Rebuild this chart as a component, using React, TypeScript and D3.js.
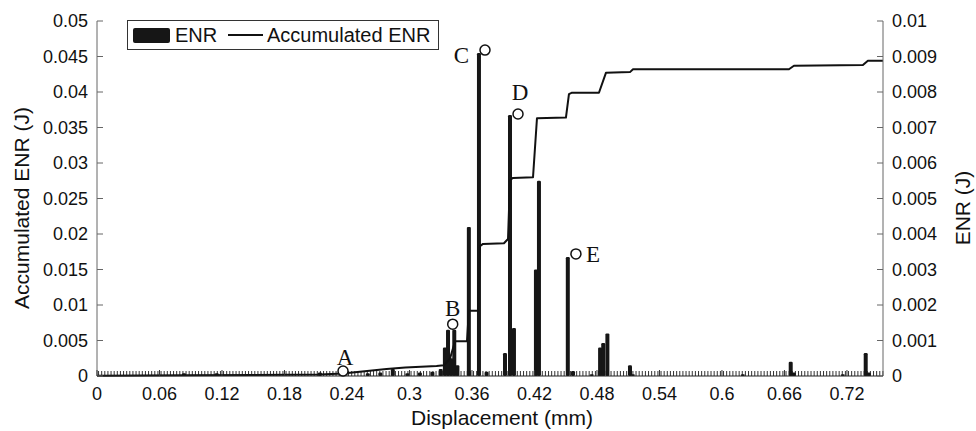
import React from 'react';
import * as d3 from 'd3';

// ---- data ----
const xTicks = [0, 0.06, 0.12, 0.18, 0.24, 0.3, 0.36, 0.42, 0.48, 0.54, 0.6, 0.66, 0.72];
const leftTicks = [0, 0.005, 0.01, 0.015, 0.02, 0.025, 0.03, 0.035, 0.04, 0.045, 0.05];
const rightTicks = [0, 0.001, 0.002, 0.003, 0.004, 0.005, 0.006, 0.007, 0.008, 0.009, 0.01];

// ENR bars (displacement mm, ENR J)
const enrX = [0.0835, 0.115, 0.214, 0.26, 0.272, 0.284, 0.298, 0.31, 0.322, 0.33, 0.334, 0.337, 0.34, 0.343, 0.346,
  0.357, 0.3667, 0.374, 0.3917, 0.3965, 0.4003, 0.4214, 0.4243, 0.452, 0.457, 0.475, 0.483, 0.486, 0.49,
  0.5117, 0.5145, 0.62, 0.666, 0.669, 0.716, 0.738, 0.741];
const enrV = [0.00008, 0.00008, 0.0001, 0.00008, 0.0001, 0.0002, 0.00008, 0.0001, 0.00012, 0.0002, 0.0008, 0.0013, 0.0005, 0.0013, 0.0003,
  0.0042, 0.0091, 0.00012, 0.00065, 0.00735, 0.00135, 0.003, 0.0055, 0.00335, 0.00014, 0.00005, 0.0008, 0.00093, 0.0012,
  0.0003, 0.00005, 0.00005, 0.0004, 0.0001, 0.00005, 0.00065, 0.0001];

// Accumulated ENR (displacement mm, J)
const accX = [0, 0.0835, 0.214, 0.236, 0.278, 0.296, 0.326, 0.333, 0.339, 0.3437, 0.3552, 0.357, 0.3658, 0.3677, 0.3706,
  0.3907, 0.3946, 0.3965, 0.3994, 0.4186, 0.4224, 0.4502, 0.4531, 0.456, 0.4819, 0.4886, 0.5117, 0.5146, 0.6643,
  0.6691, 0.7353, 0.7401, 0.7546];
const accV = [0.00005, 0.0001, 0.0002, 0.00035, 0.001, 0.0012, 0.0014, 0.0015, 0.0025, 0.0049, 0.0049, 0.0092, 0.0092, 0.0183, 0.0186,
  0.0187, 0.0193, 0.0276, 0.0279, 0.028, 0.0363, 0.0364, 0.0397, 0.0399, 0.0399, 0.0427, 0.0428, 0.0432, 0.0432,
  0.0437, 0.0438, 0.0444, 0.0444];

// annotated points
const markLabels = ['A', 'B', 'C', 'D', 'E'];
const markX = [0.2362, 0.3415, 0.3725, 0.4042, 0.4598];
const markV = [0.00014, 0.00146, 0.00918, 0.00738, 0.00344];

const W = 976, H = 431;
const L = 97, R = 883, T = 21, B = 376;
const sans = '"Liberation Sans", Arial, Helvetica, sans-serif';
const serif = '"Liberation Serif", "Times New Roman", serif';

export default function App() {
  const x = d3.scaleLinear().domain([0, 0.7546]).range([L, R]);
  const yL = d3.scaleLinear().domain([0, 0.05]).range([B, T]);
  const yR = d3.scaleLinear().domain([0, 0.01]).range([B, T]);
  const line = d3.line<number>().x((_, i) => x(accX[i])).y((d) => yL(d));
  const hatch = d3.range(0.0015, 0.7546, 0.003);
  const fmt = (v: number, d: number) => String(+v.toFixed(d));
  const barW = 4;

  // label offsets relative to circle (px)
  const labelPos = [
    { dx: 2, dy: -6, anchor: 'middle' },
    { dx: 0, dy: -8, anchor: 'middle' },
    { dx: -16, dy: 13, anchor: 'end' },
    { dx: 2, dy: -14, anchor: 'middle' },
    { dx: 10, dy: 8, anchor: 'start' },
  ];

  return (
    <svg width={W} height={H} style={{ position: 'absolute', left: 0, top: 0, background: '#fff' }}>
      {/* hatch (minor ticks) */}
      <g>
        {hatch.map((h, i) => (
          <line key={i} x1={x(h)} x2={x(h)} y1={B} y2={B - 5} stroke="#333" strokeWidth={1} />
        ))}
      </g>
      {/* ENR bars */}
      <g>
        {enrX.map((xv, i) => (
          <rect key={i} x={x(xv) - barW / 2} y={yR(enrV[i])} width={barW} height={B - yR(enrV[i])} fill="#161616" rx={1.2} />
        ))}
      </g>
      {/* accumulated line */}
      <path d={line(accV) || ''} fill="none" stroke="#111" strokeWidth={2} strokeLinejoin="round" />
      {/* axes */}
      <g stroke="#666" strokeWidth={1} fill="none">
        <line x1={L} x2={L} y1={T} y2={B} />
        <line x1={R} x2={R} y1={T} y2={B} />
        <line x1={L} x2={R} y1={B} y2={B} stroke="#222" />
        {leftTicks.map((t, i) => <line key={'l' + i} x1={L} x2={L + 6} y1={yL(t)} y2={yL(t)} />)}
        {rightTicks.map((t, i) => <line key={'r' + i} x1={R} x2={R - 6} y1={yR(t)} y2={yR(t)} />)}
        {xTicks.map((t, i) => <line key={'x' + i} x1={x(t)} x2={x(t)} y1={B} y2={B - 6} stroke="#333" />)}
      </g>
      <g fontFamily={sans} fontSize={18} fill="#111">
        {leftTicks.map((t, i) => (
          <text key={'lt' + i} x={L - 9} y={yL(t)} textAnchor="end" dominantBaseline="central">{fmt(t, 3)}</text>
        ))}
        {rightTicks.map((t, i) => (
          <text key={'rt' + i} x={R + 9} y={yR(t)} textAnchor="start" dominantBaseline="central">{fmt(t, 3)}</text>
        ))}
        {xTicks.map((t, i) => (
          <text key={'xt' + i} x={x(t)} y={400} textAnchor="middle">{fmt(t, 2)}</text>
        ))}
      </g>
      <g fontFamily={sans} fontSize={21} fill="#111">
        <text x={(L + R) / 2 + 12} y={425} textAnchor="middle">Displacement (mm)</text>
        <text transform={`translate(29,208) rotate(-90)`} textAnchor="middle">Accumulated ENR (J)</text>
        <text transform={`translate(970,208) rotate(-90)`} textAnchor="middle">ENR (J)</text>
      </g>
      {/* markers */}
      <g>
        {markX.map((mx, i) => (
          <g key={'m' + i}>
            <circle cx={x(mx)} cy={yR(markV[i])} r={5} fill="#fff" stroke="#111" strokeWidth={1.5} />
            <text x={x(mx) + labelPos[i].dx} y={yR(markV[i]) + labelPos[i].dy} textAnchor={labelPos[i].anchor as any}
              fontFamily={serif} fontSize={23} fill="#111">{markLabels[i]}</text>
          </g>
        ))}
      </g>
      {/* legend */}
      <g>
        <rect x={127.5} y={20.5} width={311} height={29} fill="#fff" stroke="#333" strokeWidth={1} />
        <rect x={133} y={28} width={37} height={15} rx={2} fill="#161616" />
        <text x={175} y={42} fontFamily={sans} fontSize={20} fill="#111">ENR</text>
        <line x1={228} x2={263} y1={35} y2={35} stroke="#111" strokeWidth={2} />
        <text x={267} y={42} fontFamily={sans} fontSize={20} fill="#111">Accumulated ENR</text>
      </g>
    </svg>
  );
}
